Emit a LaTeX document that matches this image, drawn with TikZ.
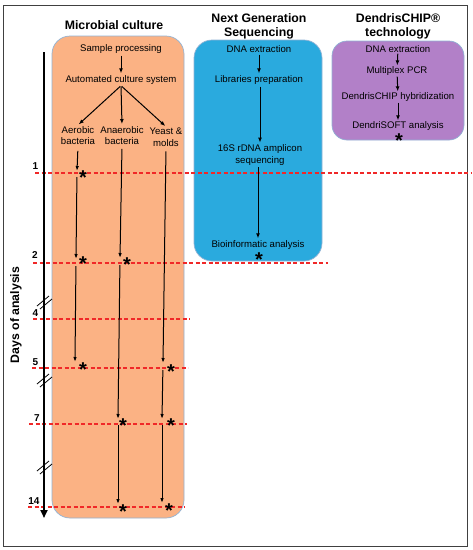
\documentclass[tikz,border=0pt]{standalone}
\usepackage{fontspec}
\setmainfont{Liberation Sans}
\usetikzlibrary{arrows.meta,positioning}
\definecolor{culture}{RGB}{251,178,132}
\definecolor{ngs}{RGB}{42,170,222}
\definecolor{chip}{RGB}{178,128,200}
\definecolor{edge}{RGB}{145,178,212}
\definecolor{dayred}{RGB}{240,40,40}

\begin{document}
\begin{tikzpicture}[x=1pt,y=-1pt,
  box/.style={rectangle,rounded corners=18pt,draw=edge,line width=0.7pt},
  lbl/.style={font=\fontsize{9.6}{11.5}\selectfont,align=center,inner sep=1pt},
  ttl/.style={font=\fontsize{12.3}{14}\selectfont\bfseries,align=center},
  dnum/.style={font=\fontsize{10}{12}\selectfont\bfseries,inner sep=0pt},
  arr/.style={-{Latex[length=5pt,width=4pt]},line width=1pt,shorten <=1pt,shorten >=1pt},
  tl/.style={-{Latex[length=5pt,width=3.5pt]},line width=1pt},
  dayline/.style={draw=dayred,dash pattern=on 4pt off 2.5pt,line width=1.1pt},
  ast/.style={font=\fontsize{20}{20}\selectfont\bfseries,inner sep=0pt,anchor=base,yshift=-11.3pt}]
\useasboundingbox (0,0) rectangle (473,550);
\draw[line width=0.9pt,draw=black!75] (3,5) rectangle (467,546);

% boxes
\node[box,fill=culture,minimum width=132,minimum height=482] (mcbox) at (118,277) {};
\node[box,fill=ngs,minimum width=128,minimum height=221] (ngsbox) at (258,150.5) {};
\node[box,fill=chip,rounded corners=15pt,minimum width=132,minimum height=99] (chipbox) at (398,90.5) {};

% titles
\node[ttl] (mct) at (114,25) {Microbial culture};
\node[ttl] (ngst) at (259,26.5) {Next Generation\\Sequencing};
\node[ttl] (chipt) at (398,26) {DendrisCHIP®\\technology};
\node[ttl,rotate=90] (days) at (16,315) {Days of analysis};

% days
\foreach \n/\xl/\yl/\yy/\xa/\xb in {1/35.5/166/173/35/472, 2/35/255/263/33/328,
    4/35.5/313/319/33/190, 5/35.3/362/368/32/188, 7/37/418/424/29/187, 14/34/501/507/28/185} {
  \node[dnum] (d\n) at (\xl,\yl) {\n};
  \draw[dayline] (\xa,\yy) -- (\xb,\yy);
}

% time axis
\coordinate (ttop) at (44,52);
\coordinate (tend) at (44,518);
\draw[line width=2.2pt,-{Triangle[length=8pt,width=7pt]}] (ttop) -- (tend);
\foreach \by in {302,380,467} {
  \draw[line width=0.8pt] (37,\by+4) -- (49,\by-6);
  \draw[line width=0.8pt] (40,\by+7) -- (52,\by-3);
}

% microbial culture
\node[lbl] (sp) at (121,49) {Sample processing};
\node[lbl] (acs) at (121,80) {Automated culture system};
\node[lbl] (aer) at (78,135.5) {Aerobic\\bacteria};
\node[lbl] (anb) at (122,135.5) {Anaerobic\\bacteria};
\node[lbl] (yst) at (166,137) {Yeast \&\\molds};
\draw[arr] (sp) -- (acs);
\draw[arr] (acs.south) -- (aer.north);
\draw[arr] (acs.south) -- (anb.north);
\draw[arr] (acs.south) -- (yst.north);

\coordinate (a1) at (77,171);
\coordinate (a2) at (76,259);
\coordinate (a5) at (75,362);
\coordinate (n2) at (120,258);
\coordinate (n7) at (118,419);
\coordinate (n14) at (118,504);
\coordinate (y5) at (163,363);
\coordinate (y7) at (162,419);
\coordinate (y14) at (162,503);
\draw[tl,shorten <=5pt] (aer.south) -- (a1);
\draw[tl,shorten <=6pt] (a1) -- (a2);
\draw[tl,shorten <=7pt] (a2) -- (a5);
\draw[tl,shorten <=3pt] (anb.south) -- (n2);
\draw[tl,shorten <=7pt] (n2) -- (n7);
\draw[tl,shorten <=6pt] (n7) -- (n14);
\draw[tl,shorten <=4pt] (yst.south) -- (y5);
\draw[tl,shorten <=7pt] (y5) -- (y7);
\draw[tl,shorten <=6pt] (y7) -- (y14);

\node[ast] (sa1) at (83,173) {*};
\node[ast] (sa2) at (83,259) {*};
\node[ast] (sa5) at (83,365) {*};
\node[ast] (sn2) at (127,260) {*};
\node[ast] (sn7) at (123,421) {*};
\node[ast] (sn14) at (123,507) {*};
\node[ast] (sy5) at (171,367) {*};
\node[ast] (sy7) at (171,421) {*};
\node[ast] (sy14) at (169,506) {*};

% next generation sequencing
\node[lbl] (dna) at (259,49) {DNA extraction};
\node[lbl] (lib) at (259,80) {Libraries preparation};
\node[lbl] (seq) at (260,155) {16S rDNA amplicon\\sequencing};
\node[lbl] (bio) at (258,245) {Bioinformatic analysis};
\node[ast] (sbio) at (259,255) {*};
\draw[arr] (dna) -- (lib);
\draw[arr] (lib.south -| seq) -- (seq);
\draw[arr] (seq.south -| bio) -- (bio);

% dendrischip
\node[lbl] (dna2) at (398,49) {DNA extraction};
\node[lbl] (pcr) at (397,71) {Multiplex PCR};
\node[lbl] (hyb) at (398,97) {DendrisCHIP hybridization};
\node[lbl] (soft) at (398,126) {DendriSOFT analysis};
\node[ast] (ssoft) at (399,136) {*};
\draw[arr,shorten <=0pt,shorten >=0pt] (dna2) -- (pcr);
\draw[arr,shorten <=0pt,shorten >=0pt] (pcr) -- (hyb);
\draw[arr,shorten <=0pt,shorten >=0pt] (hyb) -- (soft);
\end{tikzpicture}
\end{document}
